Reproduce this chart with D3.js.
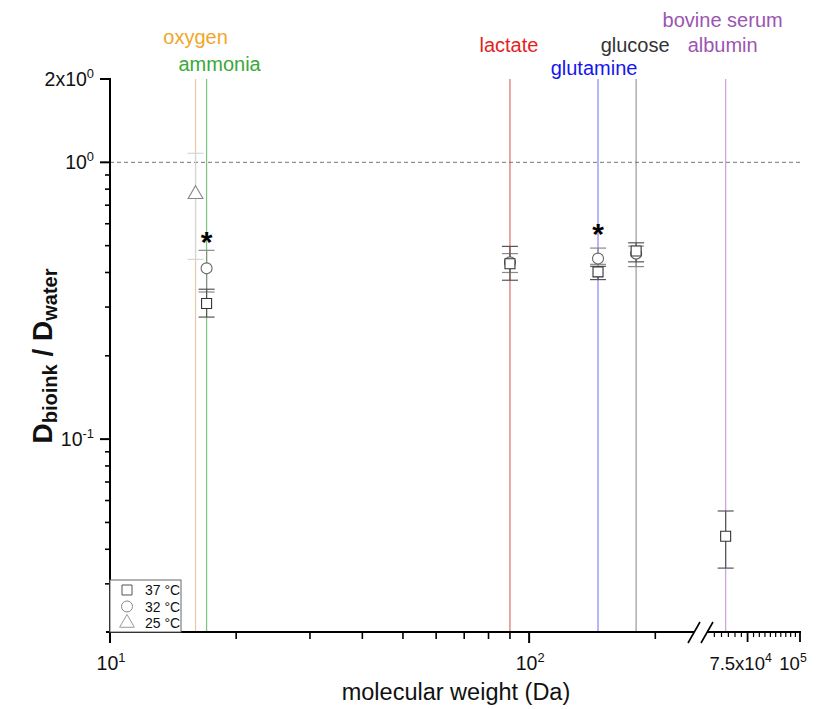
<!DOCTYPE html>
<html><head><meta charset="utf-8">
<script src="https://d3js.org/d3.v7.min.js"></script>
<style>body{margin:0;background:#fff}svg{font-family:"Liberation Sans",Arial,sans-serif}</style>
</head><body><svg id="c" width="816" height="709"></svg>
<script>
// ---- data ----
const compounds = ["oxygen","ammonia","lactate","glutamine","glucose","bovine serum albumin"];
const labelLines = [["oxygen"],["ammonia"],["lactate"],["glutamine"],["glucose"],["bovine serum","albumin"]];
const molWeights = [16, 17, 90, 146, 180, 66500];
const lineColors = ["#ebc8a4","#7cc47c","#dc6b6b","#8585f5","#9a9a9a","#c9a0d8"];
const labelColors = ["#f2a52a","#3aa83a","#e61e1e","#1515ee","#333333","#9b55b0"];
// 37 °C (squares)
const s37Compounds = ["ammonia","lactate","glutamine","glucose","bovine serum albumin"];
const s37Values = [0.309, 0.430, 0.402, 0.478, 0.0446];
const s37Low    = [0.276, 0.375, 0.377, 0.437, 0.0342];
const s37High   = [0.348, 0.497, 0.421, 0.512, 0.055];
// 32 °C (circles)
const s32Compounds = ["ammonia","lactate","glutamine","glucose"];
const s32Values = [0.414, 0.435, 0.449, 0.468];
const s32Low    = [0.340, 0.400, 0.428, 0.420];
const s32High   = [0.481, 0.468, 0.490, 0.498];
// 25 °C (triangles)
const s25Compounds = ["oxygen"];
const s25Values = [0.773];
const s25Low    = [0.446];
const s25High   = [1.078];
// significance markers
const starCompounds = ["ammonia","glutamine"];
const starValues = [0.54, 0.58];
const legendLabels = ["37 °C","32 °C","25 °C"];
const yTickLabels = [[2,"2x10","0"],[1,"10","0"],[0.1,"10","-1"]];
const xTickLabelsMain = [[10,"10","1"],[100,"10","2"]];
const xTickLabelsBreak = [[75000,"7.5x10","4"],[100000,"10","5"]];

// ---- scales ----
const svg = d3.select("#c");
const x1 = d3.scaleLog().domain([10, 242]).range([110, 690]);
const x2 = d3.scaleLog().domain([61700, 100000]).range([712, 800]);
const xOf = c => { const m = molWeights[compounds.indexOf(c)]; return m > 1000 ? x2(m) : x1(m); };
const y = d3.scaleLog().domain([0.0201, 2]).range([632, 79]);

// vertical compound lines
compounds.forEach((c,i)=>{
  svg.append("line").attr("x1",xOf(c)).attr("x2",xOf(c)).attr("y1",y(2)).attr("y2",y(0.0201))
    .attr("stroke",lineColors[i]).attr("stroke-width",1.2);
});
// labels
const labelPos = {oxygen:[0,44],ammonia:[13,71],lactate:[-1,52],glutamine:[-4,75],glucose:[-1,52],"bovine serum albumin":[-3,27]};
compounds.forEach((c,i)=>{
  const [dx,yy] = labelPos[c];
  labelLines[i].forEach((t,j)=>{
    svg.append("text").attr("x",xOf(c)+dx).attr("y",yy+j*25).attr("text-anchor","middle")
      .attr("font-size",20).attr("fill",labelColors[i]).text(t);
  });
});
// dashed reference line at 1
svg.append("line").attr("x1",110).attr("x2",800).attr("y1",y(1)).attr("y2",y(1))
  .attr("stroke","#777").attr("stroke-width",1).attr("stroke-dasharray","4,3");

// error bars
function errBars(cs, lo, hi, color){
  cs.forEach((c,i)=>{
    const cx = xOf(c);
    svg.append("line").attr("x1",cx).attr("x2",cx).attr("y1",y(lo[i])).attr("y2",y(hi[i])).attr("stroke",color).attr("stroke-width",1.2);
    [lo[i],hi[i]].forEach(v=>svg.append("line").attr("x1",cx-8).attr("x2",cx+8).attr("y1",y(v)).attr("y2",y(v)).attr("stroke",color).attr("stroke-width",1.2));
  });
}
errBars(s25Compounds,s25Low,s25High,"#d6d6d6");
errBars(s32Compounds,s32Low,s32High,"#8a8a8a");
errBars(s37Compounds,s37Low,s37High,"#555");

const sym = {
  sq: d3.symbol().type(d3.symbolSquare).size(100)(),
  ci: d3.symbol().type(d3.symbolCircle).size(95)(),
  tr: d3.symbol().type(d3.symbolTriangle).size(95)()
};
s25Compounds.forEach((c,i)=>svg.append("path").attr("d",sym.tr).attr("transform",`translate(${xOf(c)},${y(s25Values[i])+1})`).attr("fill","#fff").attr("stroke","#888").attr("stroke-width",1.1));
s32Compounds.forEach((c,i)=>svg.append("path").attr("d",sym.ci).attr("transform",`translate(${xOf(c)},${y(s32Values[i])})`).attr("fill","#fff").attr("stroke","#666").attr("stroke-width",1.1));
s37Compounds.forEach((c,i)=>svg.append("path").attr("d",sym.sq).attr("transform",`translate(${xOf(c)},${y(s37Values[i])})`).attr("fill","#fff").attr("stroke","#333").attr("stroke-width",1.1));
starCompounds.forEach((c,i)=>svg.append("text").attr("x",xOf(c)).attr("y",y(starValues[i])+16).attr("text-anchor","middle").attr("font-size",30).attr("font-weight","bold").text("*"));

// ---- axes ----
const ax = svg.append("g").attr("stroke","#000");
ax.append("line").attr("x1",110).attr("x2",110).attr("y1",y(2)-1).attr("y2",633).attr("stroke-width",2);
ax.append("line").attr("x1",106).attr("x2",694).attr("y1",632).attr("y2",632).attr("stroke-width",2);
ax.append("line").attr("x1",707).attr("x2",801).attr("y1",632).attr("y2",632).attr("stroke-width",2);
// break marks
[[688,700],[701,713]].forEach(([a,b])=>ax.append("line").attr("x1",a).attr("y1",643).attr("x2",b).attr("y2",622).attr("stroke-width",1.6));
// y ticks
const yMinor = [];
[0.01,0.1,1].forEach(d=>{for(let k=2;k<=9;k++){const v=d*k; if(v>0.0201 && v<2) yMinor.push(v);}});
yMinor.forEach(v=>ax.append("line").attr("x1",105).attr("x2",110).attr("y1",y(v)).attr("y2",y(v)).attr("stroke-width",1.6));
[2,1,0.1].forEach(v=>ax.append("line").attr("x1",100).attr("x2",110).attr("y1",y(v)).attr("y2",y(v)).attr("stroke-width",2));
// x ticks main
const xMinor = [20,30,40,50,60,70,80,90,200];
xMinor.forEach(v=>ax.append("line").attr("x1",x1(v)).attr("x2",x1(v)).attr("y1",632).attr("y2",639).attr("stroke-width",1.6));
[10,100].forEach(v=>ax.append("line").attr("x1",x1(v)).attr("x2",x1(v)).attr("y1",632).attr("y2",643).attr("stroke-width",2));
// x ticks after break
d3.range(62500,100001,2500).forEach(v=>{
  const major = (v===75000||v===100000);
  ax.append("line").attr("x1",x2(v)).attr("x2",x2(v)).attr("y1",632).attr("y2",major?642:637).attr("stroke-width",major?1.8:1.2);
});

function supLabel(xp, yp, base, sup, anchor, fs){
  const t = svg.append("text").attr("x",xp).attr("y",yp).attr("text-anchor",anchor).attr("font-size",fs).attr("fill","#111");
  t.append("tspan").text(base);
  t.append("tspan").attr("font-size",fs*0.66).attr("dy",-8).text(sup);
}
yTickLabels.forEach(([v,b,s])=>supLabel(94,y(v)+7,b,s,"end",19.5));
xTickLabelsMain.forEach(([v,b,s])=>supLabel(x1(v)+1,670,b,s,"middle",19.5));
xTickLabelsBreak.forEach(([v,b,s])=>supLabel(x2(v)-7,670,b,s,"middle",18.5));

// axis titles
svg.append("text").attr("x",456).attr("y",700).attr("text-anchor","middle").attr("font-size",23.5).attr("fill","#111").text("molecular weight (Da)");
const yt = svg.append("text").attr("transform","translate(52,356) rotate(-90)").attr("text-anchor","middle").attr("font-size",28).attr("font-weight","bold").attr("fill","#111");
yt.append("tspan").text("D");
yt.append("tspan").attr("font-size",20).attr("dy",5).text("bioink");
yt.append("tspan").attr("dy",-5).text(" / D");
yt.append("tspan").attr("font-size",20).attr("dy",5).text("water");

// legend
const lg = svg.append("g");
lg.append("rect").attr("x",110).attr("y",580).attr("width",71).attr("height",52).attr("fill","#fff").attr("stroke","#666").attr("stroke-width",1);
const lsyms = [[sym.sq,"#555"],[sym.ci,"#888"],[sym.tr,"#999"]];
legendLabels.forEach((t,i)=>{
  const yy = 590 + i*16.5;
  lg.append("path").attr("d",lsyms[i][0]).attr("transform",`translate(127,${yy}) scale(1.0)`).attr("fill","none").attr("stroke",lsyms[i][1]).attr("stroke-width",1);
  lg.append("text").attr("x",145).attr("y",yy+5).attr("font-size",14).attr("fill","#111").text(t);
});
</script></body></html>
